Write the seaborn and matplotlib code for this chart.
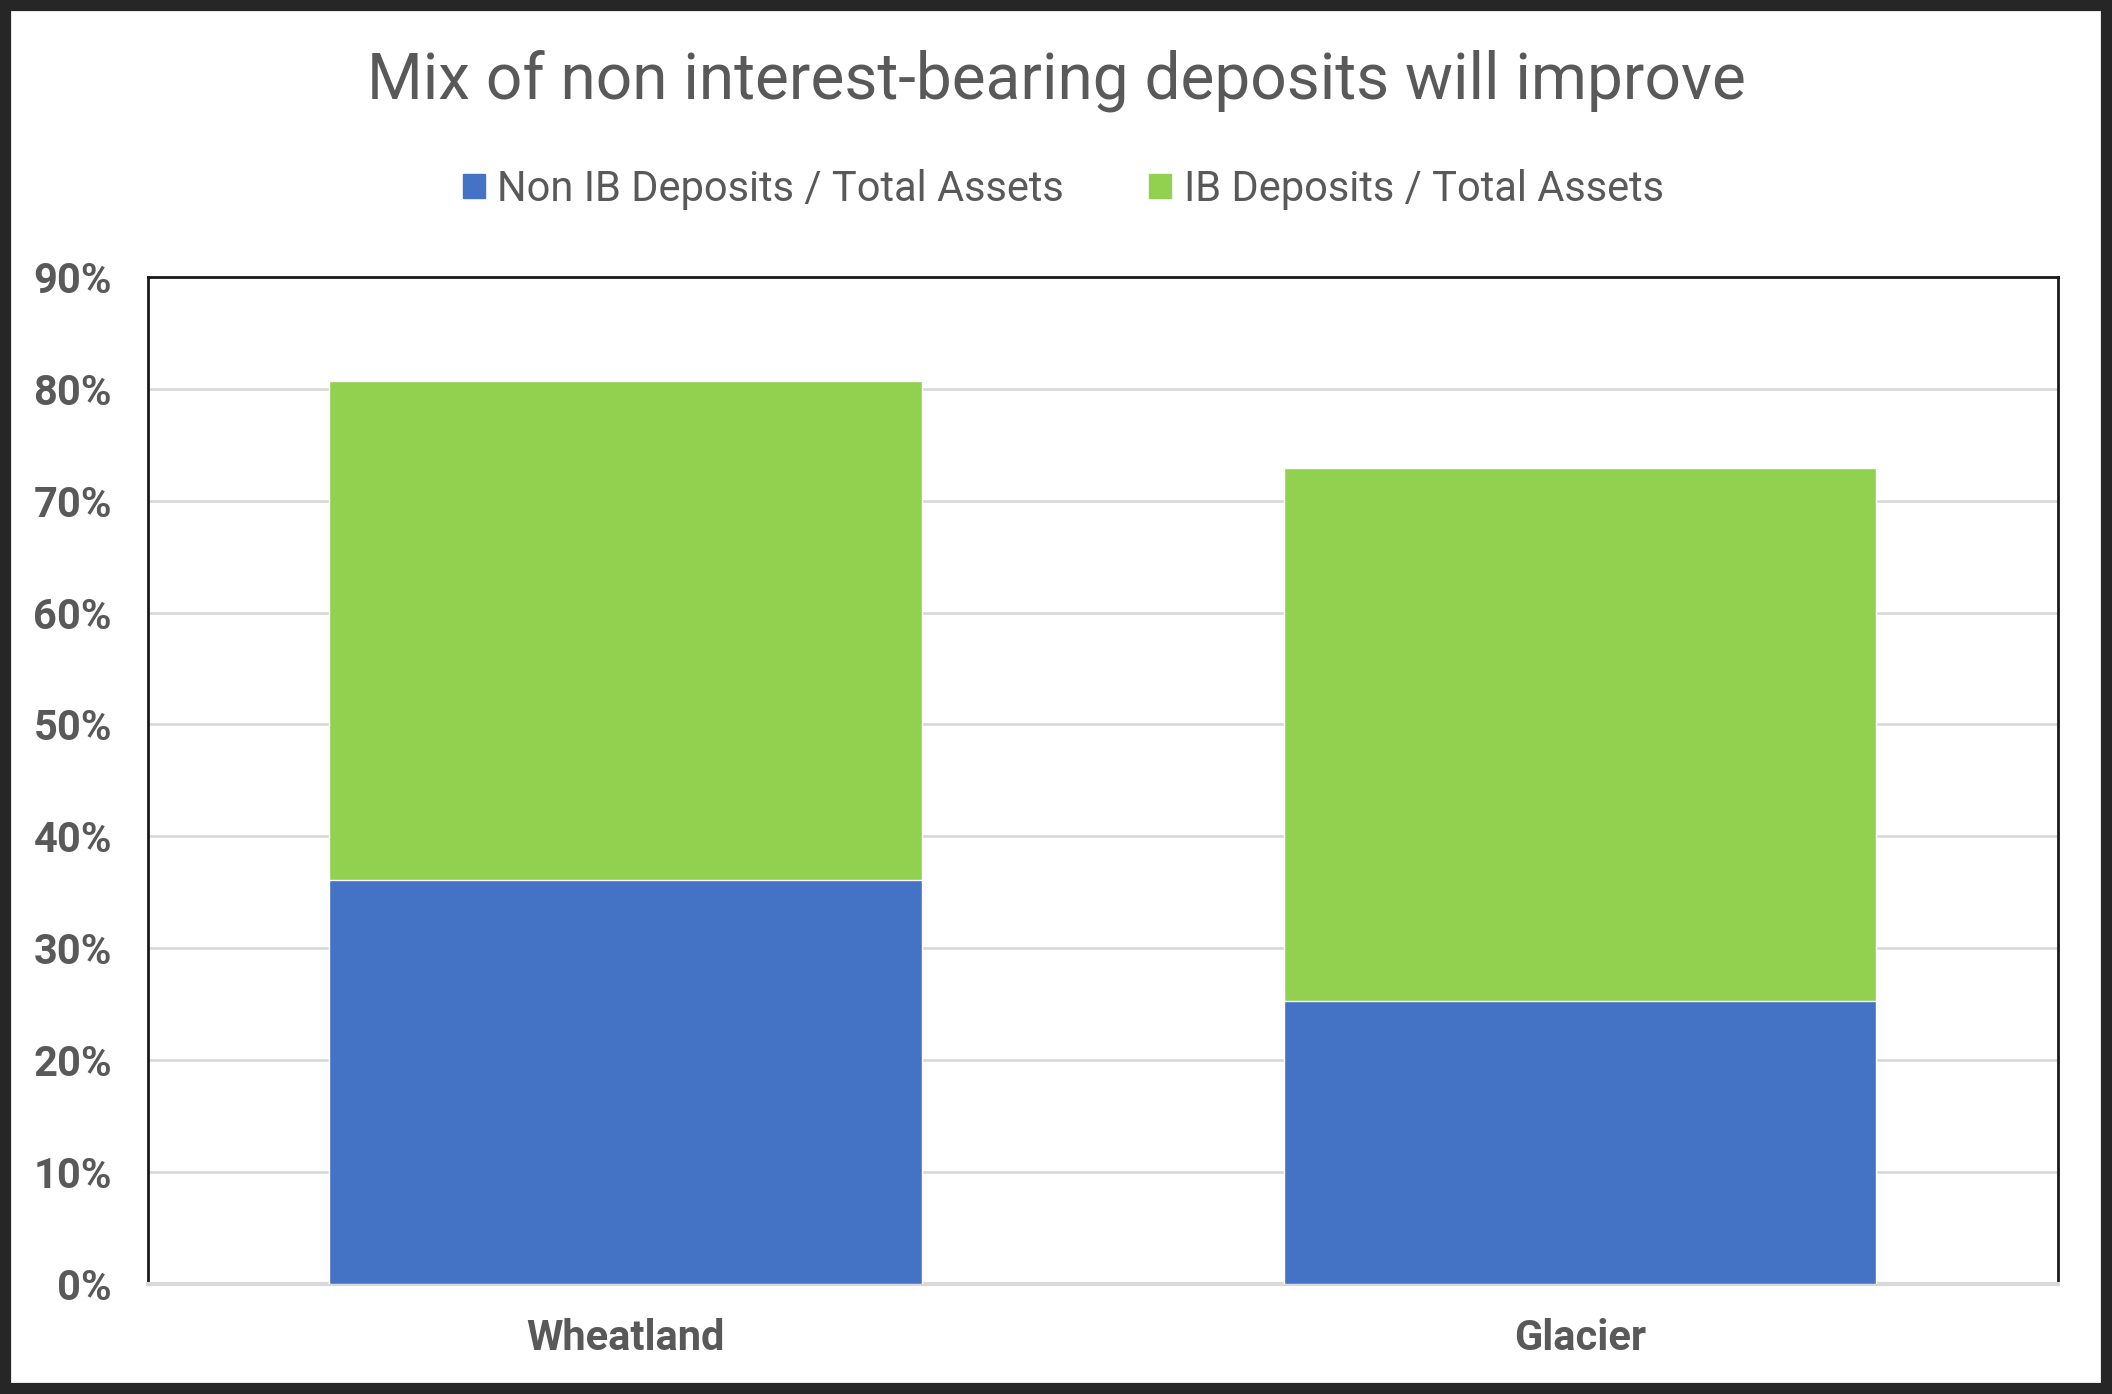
import matplotlib
matplotlib.use("Agg")
import matplotlib.pyplot as plt
import matplotlib.patches as mpatches
import seaborn as sns
import pandas as pd

banks = ["Wheatland", "Glacier"]
non_ib = [36.1, 25.3]
ib = [44.6, 47.6]
series_names = ["Non IB Deposits / Total Assets", "IB Deposits / Total Assets"]
yticks = [0, 10, 20, 30, 40, 50, 60, 70, 80, 90]

blue = "#4472c4"
green = "#92d050"
grey_txt = "#595959"

sns.set_theme(style="white")
plt.rcParams["font.family"] = ["Roboto", "DejaVu Sans"]

df = pd.DataFrame({"bank": banks, "non_ib": non_ib, "ib": ib})
df["total"] = df["non_ib"] + df["ib"]

fig = plt.figure(figsize=(21.12, 13.94), dpi=100)
ax = fig.add_axes([0.0701, 0.0792, 0.9043, 0.7221])

# stacked: draw total in green, then the blue part on top
sns.barplot(data=df, x="bank", y="total", color=green, width=0.62,
            saturation=1, ax=ax, zorder=3)
sns.barplot(data=df, x="bank", y="non_ib", color=blue, width=0.62,
            saturation=1, ax=ax, zorder=4)

ax.set_ylim(0, 90)
ax.set_xlim(-0.5, 1.5)
ax.set_yticks(yticks)
ax.set_yticklabels([f"{t}%" for t in yticks])
ax.set_xlabel("")
ax.set_ylabel("")
ax.yaxis.grid(True, color="#d9d9d9", linewidth=2, zorder=0)
ax.set_axisbelow(True)
ax.tick_params(axis="both", length=0, labelsize=30, colors=grey_txt)
ax.tick_params(axis="y", pad=26)
ax.tick_params(axis="x", pad=25)
for lab in ax.get_xticklabels() + ax.get_yticklabels():
    lab.set_fontweight("bold")

for side in ["left", "top", "right"]:
    ax.spines[side].set_color("#1a1a1a")
    ax.spines[side].set_linewidth(2)
ax.spines["bottom"].set_color("#d9d9d9")
ax.spines["bottom"].set_linewidth(3)

fig.suptitle("Mix of non interest-bearing deposits will improve",
             y=0.942, va="center", fontsize=46, color=grey_txt)

handles = [mpatches.Patch(color=blue, label=series_names[0]),
           mpatches.Patch(color=green, label=series_names[1])]
fig.legend(handles=handles, loc="center", bbox_to_anchor=(0.5035, 0.864), ncol=2,
           frameon=False, fontsize=30, labelcolor=grey_txt, handlelength=0.52,
           handleheight=0.52, handletextpad=0.3, columnspacing=2.05)

# dark outer frame
fig.patches.append(mpatches.Rectangle((0, 0), 1, 1, transform=fig.transFigure,
                                      fill=False, edgecolor="#262626",
                                      linewidth=16, zorder=10))

fig.savefig("out.png", dpi=100, facecolor="white")
